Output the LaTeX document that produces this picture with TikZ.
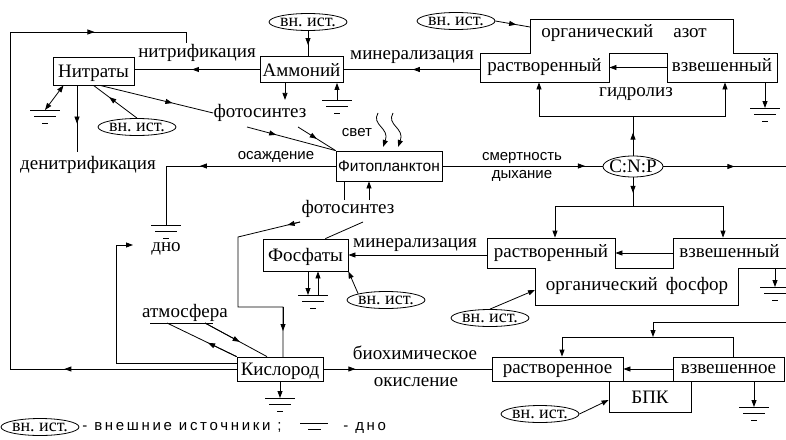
\documentclass[tikz,border=0pt]{standalone}
\usepackage{fontspec}
\setmainfont{Liberation Serif}
\setsansfont{Liberation Sans}
\usetikzlibrary{arrows.meta,shapes.geometric,decorations.markings,calc}

\newcommand{\vnist}{\makebox[0pt]{вн.\ ист.}}

\tikzset{
  >={Triangle[length=7pt,width=5pt]},
  tx/.style={inner sep=0pt, text depth=0pt, font=\fontsize{19}{21}\selectfont},
  box/.style={tx, draw, text height=13pt},
  lbl/.style={tx, text height=8.5pt},
  slbl/.style={inner sep=0pt, text depth=0pt, text height=7.8pt, font=\sffamily\fontsize{15}{17}\selectfont},
  src/.style={tx, draw, ellipse, minimum width=78, minimum height=17, font=\fontsize{18}{20}\selectfont},
  arr at/.style={postaction={decorate, decoration={markings, mark=at position #1 with {\arrow{>}}}}},
  gnd/.pic={\draw (-15,0) -- (15,0) (-11,6) -- (11,6) (-3,13) -- (3,13);}
}

\begin{document}
\begin{tikzpicture}[x=1pt, y=-1pt, line width=0.8pt]
  \useasboundingbox (0,0) rectangle (786,439);

  % main boxes
  \node[box, minimum width=81, minimum height=28] (nitr) at (93.5,71) {Нитраты};
  \node[box, minimum width=83, minimum height=26] (amm) at (301.5,69.5) {Аммоний};
  \node[box, font=\sffamily\fontsize{15.5}{17}\selectfont, text height=10pt,
        minimum width=106, minimum height=30] (phyto) at (389,166) {Фитопланктон};
  \node[box, minimum width=85, minimum height=32] (phos) at (305.5,255) {Фосфаты};
  \node[box, minimum width=86, minimum height=24] (oxy) at (280,369) {Кислород};

  % organic nitrogen
  \draw (530,19) -- (733,19) -- (733,53) -- (777,53) -- (777,82) -- (667,82) -- (667,53)
        -- (609,53) -- (609,82) -- (480,82) -- (480,53) -- (530,53) -- cycle;
  \node[lbl] (orgN) at (624,33) {органический\hspace{20pt}азот};
  \node[lbl, minimum width=129, minimum height=29] (dissN) at (544.5,67.5) {растворенный};
  \node[lbl, minimum width=110, minimum height=29] (suspN) at (722,67.5) {взвешенный};

  % organic phosphorus
  \draw (487,238) -- (615,238) -- (615,268) -- (673,268) -- (673,238) -- (792,238)
        -- (792,268) -- (738,268) -- (738,305) -- (535,305) -- (535,268) -- (487,268) -- cycle;
  \node[lbl] (orgP) at (637,286) {органический\hspace{8pt}фосфор};
  \node[lbl, minimum width=128, minimum height=30] (dissP) at (551,253) {растворенный};
  \node[lbl, minimum width=113, minimum height=30] (suspP) at (729.5,253) {взвешенный};

  % BOD
  \node[lbl, draw, minimum width=131, minimum height=24] (dissO) at (557.5,369) {растворенное};
  \node[lbl, draw, minimum width=111, minimum height=24] (suspO) at (728.5,369) {взвешенное};
  \node[box, minimum width=82, minimum height=31] (bpk) at (650,396.5) {БПК};

  \node[src, font=\fontsize{19}{21}\selectfont, minimum width=60, minimum height=21] (cnp) at (633,166.5) {\makebox[0pt]{C:N:P}};

  % external sources
  \node[src] (src1) at (137,127) {\vnist};
  \node[src] (src2) at (308,22) {\vnist};
  \node[src] (src3) at (456,21) {\vnist};
  \node[src] (src4) at (386,300) {\vnist};
  \node[src] (src5) at (490,318) {\vnist};
  \node[src] (src6) at (540,414) {\vnist};

  % labels
  \node[lbl] (nitrif) at (197,53) {нитрификация};
  \node[lbl] (denitr) at (88,165) {денитрификация};
  \node[lbl] (photo1) at (260,113) {фотосинтез};
  \node[slbl] (light) at (357,133) {свет};
  \node[slbl] (settle) at (276,156) {осаждение};
  \node[slbl] (mort) at (522,157) {смертность};
  \node[slbl] (resp) at (522,175) {дыхание};
  \node[lbl] (photo2) at (348,209) {фотосинтез};
  \node[lbl] (min1) at (412,55) {минерализация};
  \node[lbl] (min2) at (415,243) {минерализация};
  \node[lbl] (hydro) at (636,92) {гидролиз};
  \node[lbl] (dno) at (166,247) {дно};
  \node[lbl] (atm) at (185,313) {атмосфера};
  \node[lbl] (bio) at (415,355) {биохимическое};
  \node[lbl] (oxid) at (416,382) {окисление};

  % grounds
  \coordinate (gN) at (45,110);
  \coordinate (gA) at (337,100);
  \coordinate (gD) at (166,225);
  \coordinate (gP) at (313,295);
  \coordinate (gO) at (280,398);
  \coordinate (gNs) at (765,108);
  \coordinate (gPs) at (775,287);
  \coordinate (gOs) at (754,407);
  \foreach \g in {gN,gA,gD,gP,gO,gNs,gPs,gOs}
    \pic at (\g) {gnd};

  % nitrogen cycle
  \draw[arr at=0.54] (amm.west) -- (amm.west -| nitr.east);
  \draw[arr at=0.49] (amm.east -| dissN.west) -- (amm.east);
  \draw[arr at=0.56] (src2.south) -- (src2.south |- amm.north);
  \draw[->] ([xshift=-16.5]amm.south) -- ++(0,17);
  \draw[->] (gA) -- (gA |- amm.south);
  \draw[arr at=0.64] (src1.north) -- (nitr.south);
  \draw[<->] (gN) -- ([xshift=-30]nitr.south);
  \draw[arr at=0.57] ([xshift=-16.5]nitr.south) -- ++(0,67);
  \draw[arr at=0.64] ([xshift=6.5]nitr.south) -- (photo1.west);
  \coordinate (p1a) at (247,127);
  \coordinate (p1b) at (298,127);
  \draw[arr at=0.33] (p1a) -- (phyto.north west);
  \draw[arr at=0.5] (p1b) -- (phyto.north west);
  \coordinate (loopB) at (10,369);
  \coordinate (loopT) at (10,32);
  \coordinate (nitrTop) at (186,43);
  \draw (oxy.west) -- (loopB) -- (loopT) -| (nitrTop);
  \draw[->] (oxy.west) -- ($(oxy.west)!0.76!(loopB)$);
  \draw[->] (loopT) -- ($(loopT)!0.48!(loopT -| nitrTop)$);
  \coordinate (orgNw) at (530,27);
  \draw[arr at=0.6] (src3.east) -- (orgNw);
  \draw[->] (suspN.west) -- (dissN.east);
  \draw[->] (gNs |- suspN.south) -- (gNs);
  \coordinate (cnpN) at (633,116);
  \draw[arr at=0.58] (cnp.north) -- (cnpN);
  \draw[->] (cnpN) -| ([xshift=-5.5]dissN.south);
  \draw[->] (cnpN) -| ([xshift=3]suspN.south);

  % light
  \draw[->] (378,113) .. controls (371,125) and (390,128) .. (383,147);
  \draw[->] (393,113) .. controls (386,125) and (405,128) .. (398,147);

  % phytoplankton
  \draw[arr at=0.89] (phyto.east) -- (phyto.east -| cnp.west);
  \coordinate (exitR) at (788,166.5);
  \draw[arr at=0.57] (cnp.east) -- (exitR);
  \draw (phyto.west) -| (gD);
  \draw[->] (phyto.west) -- ($(phyto.west)!0.8!(phyto.west -| gD)$);
  \coordinate (p2up) at (369,200);
  \draw ([xshift=-45]phyto.south) -- ++(0,19);
  \draw[->] (p2up) -- (p2up |- phyto.south);

  % phosphorus
  \coordinate (cnpP) at (633,206);
  \draw[arr at=0.54] (cnp.south) -- (cnpP);
  \draw[->] (cnpP) -| ([xshift=4]dissP.north);
  \draw[->] (cnpP) -| ([xshift=-6.5]suspP.north);
  \draw[->] (suspP.west) -- (dissP.east);
  \draw[->] (gPs |- suspP.south) -- (gPs);
  \coordinate (orgPw) at (535,290);
  \draw[->] (src5.north) -- (orgPw);
  \draw[->] (dissP.west |- phos.east) -- (phos.east);
  \coordinate (p2r) at (363,222);
  \draw (p2r) -- ([xshift=-23]phos.north east);
  \draw[->] (src4.north west) -- (phos.south east);
  \draw[->] ([xshift=2.5]phos.south) -- ([xshift=2.5]phos.south |- gP);
  \draw[->] ([xshift=12.5]phos.south |- gP) -- ([xshift=12.5]phos.south);

  % oxygen
  \coordinate (p2l) at (300,222);
  \coordinate (oxyA) at (238,237);
  \coordinate (oxyB) at (238,307);
  \coordinate (oxyC) at (283,357);
  \draw (p2l) -- (oxyA) -- (oxyB) -| (oxyC);
  \draw[->] (p2l) -- ($(p2l)!0.2!(oxyA)$);
  \draw[->] (oxyB -| oxyC) -- ($(oxyB -| oxyC)!0.48!(oxyC)$);
  \draw (150,323) -- (213,323);
  \coordinate (atmL) at (167,323);
  \coordinate (atmR) at (205,323);
  \draw (oxy.north west) -- (atmL);
  \draw[->] (oxy.north west) -- ($(oxy.north west)!0.41!(atmL)$);
  \draw (atmR) -- ([xshift=-13]oxy.north);
  \draw[->] (atmR) -- ($(atmR)!0.56!([xshift=-13]oxy.north)$);
  \coordinate (dnoIn) at (133,245);
  \draw[->] ([yshift=6]oxy.west) -| (116,245) -- (dnoIn);
  \draw[->] (oxy.south) -- (gO);
  \draw[arr at=0.19] (oxy.east) -- (dissO.west);

  % BOD
  \coordinate (bodIn) at (788,322);
  \coordinate (bodJ) at (653,337);
  \draw[->] (bodIn) -| (bodJ);
  \draw[->] (bodJ) -| ([xshift=4.5]dissO.north);
  \draw (bodJ) -| ([xshift=4.5]suspO.north);
  \draw[->] (suspO.west) -- (dissO.east);
  \draw[->] (gOs |- suspO.south) -- (gOs);
  \draw[->] (src6.east) -- ([yshift=-3.5]bpk.west);

  % legend
  \node[src] (srcL) at (40,427) {\vnist};
  \node[slbl, anchor=west] (legS) at (82,427) {\addfontfeatures{LetterSpace=18}- внешние источники ;};
  \draw (300,423) -- (328,423) (308,429) -- (321,429);
  \node[slbl, anchor=west] (legG) at (343,427) {\addfontfeatures{LetterSpace=18}- дно};
\end{tikzpicture}
\end{document}
